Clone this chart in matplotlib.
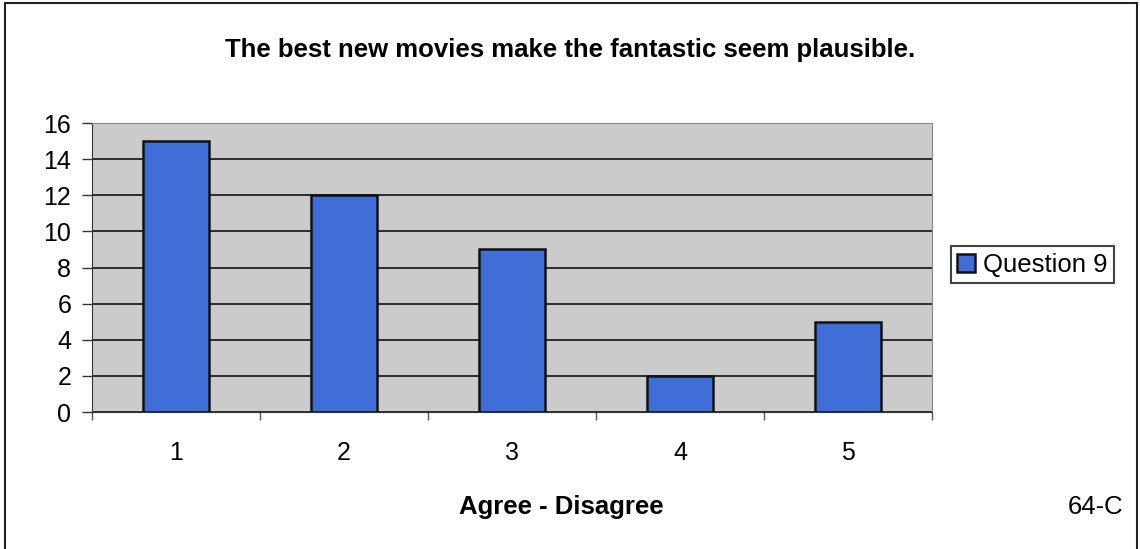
import matplotlib.pyplot as plt
import numpy as np
from matplotlib.patches import Rectangle

plt.rcParams['font.family'] = ['Liberation Sans', 'DejaVu Sans']

categories = ['1', '2', '3', '4', '5']
counts = [15, 12, 9, 2, 5]
series_name = 'Question 9'

fig = plt.figure(figsize=(11.4, 5.49), dpi=100)
ax = fig.add_axes([0.0807, 0.2495, 0.737, 0.5264])

x = np.arange(1, len(categories) + 1)
ax.bar(x, counts, width=0.39, color='#3f6fd6', edgecolor='#111111', linewidth=1.8,
       label=series_name, zorder=3)

ax.set_facecolor('#cbcbcb')
ax.set_xlim(0.5, 5.5)
ax.set_ylim(0, 16)
ax.set_yticks(np.arange(0, 17, 2))
ax.yaxis.grid(True, color='#111111', linewidth=1.2, zorder=1)
ax.set_axisbelow(True)

# category ticks between bars, labels centered under them
ax.set_xticks(np.arange(0.5, 5.6, 1))
ax.set_xticklabels([])
ax.set_xticks(x, minor=True)
ax.set_xticklabels(categories, minor=True)
ax.tick_params(axis='x', which='minor', length=0, pad=21, labelsize=18)
ax.tick_params(axis='x', which='major', length=6, width=1, color='#555555', direction='out')
ax.tick_params(axis='y', length=7, width=1, color='#333333', labelsize=18, pad=8)

for side in ['top', 'right']:
    ax.spines[side].set_color('#888888')
ax.spines['left'].set_color('#333333')
ax.spines['bottom'].set_color('#333333')

fig.text(0.5, 0.909, 'The best new movies make the fantastic seem plausible.',
         ha='center', va='center', fontsize=18.5, fontweight='bold')
fig.text(0.4925, 0.0765, 'Agree - Disagree', ha='center', va='center',
         fontsize=18.5, fontweight='bold')
fig.text(0.985, 0.0765, '64-C', ha='right', va='center', fontsize=18.5)

leg = fig.legend(loc='center left', bbox_to_anchor=(0.834, 0.518), fontsize=18.5,
                 frameon=True, fancybox=False, handlelength=0.7, handleheight=0.7,
                 handletextpad=0.3, borderpad=0.25, borderaxespad=0)
leg.get_frame().set_edgecolor('#111111')
leg.get_frame().set_linewidth(1.5)

# outer chart frame
fig.patches.append(Rectangle((0.004, -0.01), 0.993, 1.004, transform=fig.transFigure,
                             fill=False, edgecolor='#222222', linewidth=1.5))

fig.savefig('out.png', dpi=100)
